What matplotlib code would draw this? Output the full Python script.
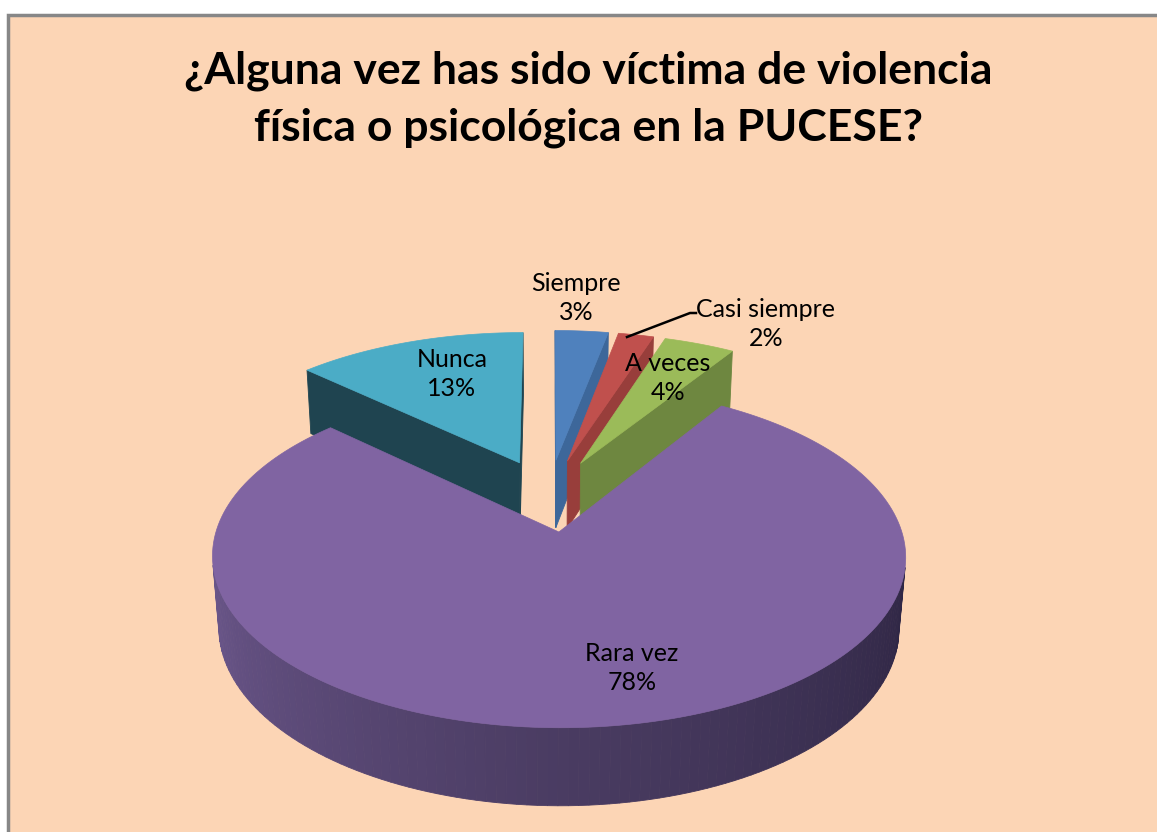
import numpy as np
import matplotlib.pyplot as plt
from matplotlib.patches import Polygon, Rectangle

# data
categories = ['Siempre', 'Casi siempre', 'A veces', 'Rara vez', 'Nunca']
percent = [3, 2, 4, 78, 13]
top_colors = ['#4F81BD', '#C0504D', '#9BBB59', '#8064A2', '#4BACC6']
wall_colors = ['#3D679A', '#983E3B', '#6E8740', '#4B3C63', '#1F4450']
title = '¿Alguna vez has sido víctima de violencia\nfísica o psicológica en la PUCESE?'

# label placement (pixels) and the leader line for "Casi siempre"
label_pos = {'Siempre': (576, 298), 'Casi siempre': (766, 324), 'A veces': (668, 378),
             'Rara vez': (632, 668), 'Nunca': (452, 374)}
leader = ([627, 690, 696], [337, 313, 313])

W, H = 1157, 832
BG = '#FCD5B5'

# 3d pie projection
CX, CY = 549, 495
S = 332
TILT = np.radians(28.2)
DIST = 6.29
DEPTH = 0.24
EXPLODE = 0.23
ST, CT = np.sin(TILT), np.cos(TILT)
eye = np.array([0.0, -DIST * CT, DIST * ST])


def project(X, Y, Z):
    X = np.asarray(X, float)
    Y = np.asarray(Y, float)
    Z = np.asarray(Z, float)
    v = Y * ST + Z * CT
    w = Y * CT - Z * ST
    k = DIST / (DIST + w)
    return CX + S * X * k, CY - S * v * k


def depth_of(X, Y, Z):
    return np.mean(np.asarray(Y) * CT - np.asarray(Z) * ST)


def visible(normal, X, Y, Z):
    p = np.array([np.mean(X), np.mean(Y), np.mean(Z)])
    return np.dot(normal, eye - p) > 0


def lerp_color(c1, c2, t):
    a = np.array(plt.matplotlib.colors.to_rgb(c1))
    b = np.array(plt.matplotlib.colors.to_rgb(c2))
    return tuple(a + (b - a) * t)


def rara_shade(theta):
    # lighter on the left, darker to the right
    th = theta % 360
    if th < 90:
        th += 360
    if th <= 270:
        t = np.clip((th - 180) / 90, 0, 1)
        return lerp_color('#6F5A90', '#4A3C62', t)
    t = np.clip((th - 270) / 90, 0, 1)
    return lerp_color('#4A3C62', '#2B2340', t)


fig = plt.figure(figsize=(W / 100, H / 100), dpi=100)
fig.patch.set_facecolor('white')
ax = fig.add_axes([0, 0, 1, 1])
ax.set_xlim(0, W)
ax.set_ylim(H, 0)
ax.axis('off')

ax.add_patch(Rectangle((8, 15), W + 20, H + 20, facecolor=BG, edgecolor='#878787', lw=2.5, zorder=0))

walls = []
tops = []
start = 90.0
for i, p in enumerate(percent):
    th1 = start
    th2 = start - 360.0 * p / 100.0
    start = th2
    mid = np.radians((th1 + th2) / 2)
    ox, oy = EXPLODE * np.cos(mid), EXPLODE * np.sin(mid)

    n = max(6, int(abs(th1 - th2) / 1.5))
    arc = np.radians(np.linspace(th2, th1, n))
    ax_x = ox + np.cos(arc)
    ax_y = oy + np.sin(arc)

    # top face
    tx = np.concatenate([[ox], ax_x])
    ty = np.concatenate([[oy], ax_y])
    px, py = project(tx, ty, np.zeros_like(tx))
    tops.append((np.column_stack([px, py]), top_colors[i]))

    # radial walls
    for th, nrm in ((th1, th1 + 90), (th2, th2 - 90)):
        r = np.radians(th)
        X = [ox, ox + np.cos(r), ox + np.cos(r), ox]
        Y = [oy, oy + np.sin(r), oy + np.sin(r), oy]
        Z = [0, 0, -DEPTH, -DEPTH]
        nv = np.array([np.cos(np.radians(nrm)), np.sin(np.radians(nrm)), 0])
        if visible(nv, X, Y, Z):
            qx, qy = project(X, Y, Z)
            walls.append((depth_of(X, Y, Z), np.column_stack([qx, qy]), wall_colors[i]))

    # outer curved wall, in small pieces
    for j in range(n - 1):
        a0, a1 = arc[j], arc[j + 1]
        X = [ox + np.cos(a0), ox + np.cos(a1), ox + np.cos(a1), ox + np.cos(a0)]
        Y = [oy + np.sin(a0), oy + np.sin(a1), oy + np.sin(a1), oy + np.sin(a0)]
        Z = [0, 0, -DEPTH, -DEPTH]
        am = (a0 + a1) / 2
        nv = np.array([np.cos(am), np.sin(am), 0])
        if visible(nv, X, Y, Z):
            qx, qy = project(X, Y, Z)
            col = rara_shade(np.degrees(am)) if categories[i] == 'Rara vez' else wall_colors[i]
            walls.append((depth_of(X, Y, Z), np.column_stack([qx, qy]), col))

walls.sort(key=lambda t: -t[0])
for _, pts, col in walls:
    ax.add_patch(Polygon(pts, closed=True, facecolor=col, edgecolor=col, lw=0.6, zorder=2))
for pts, col in tops:
    ax.add_patch(Polygon(pts, closed=True, facecolor=col, edgecolor=col, lw=0.5, zorder=3))

# labels
for name, p in zip(categories, percent):
    x, y = label_pos[name]
    ax.text(x, y, f'{name}\n{p}%', ha='center', va='center', fontsize=18,
            family='Lato', color='black', linespacing=1.3, zorder=5)
ax.plot(leader[0], leader[1], color='black', lw=1.8, zorder=4)

ax.text(588, 99, title, ha='center', va='center', fontsize=32, fontweight='bold',
        family='Lato', color='black', linespacing=1.5, zorder=5)

fig.savefig('out.png', dpi=100, facecolor='white')
